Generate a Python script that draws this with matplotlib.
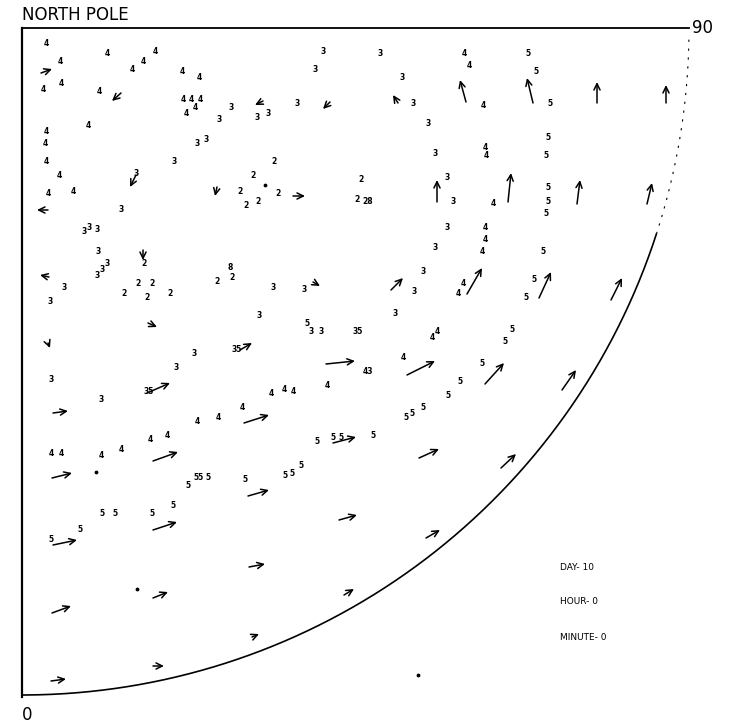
import numpy as np
import matplotlib
matplotlib.use('Agg')
import matplotlib.pyplot as plt

# plot units: pole at (0, 0), x to the right, y downward, quadrant radius R
R = 667

# contour digits
lab_x = [24, 38, 21, 39, 85, 110, 121, 133, 77, 160, 177, 161, 169, 178, 173, 164,
         209, 197, 66, 175, 184, 24, 23, 152, 24, 37, 114, 26, 51, 218, 224, 99,
         62, 67, 75,
         301, 358, 293, 442, 447, 380, 461, 275, 235, 246, 391, 406, 252, 413, 463,
         464, 231, 256, 236, 339, 335, 425, 431, 425, 346,
         506, 514, 528, 526, 524, 526, 526, 524, 471, 463,
         76, 122, 75, 80, 85, 42, 28, 116, 130, 102, 125, 148, 195, 208, 210,
         172, 154, 29, 215, 79, 127, 220, 196, 175, 145, 128, 29, 39, 79, 99,
         463, 413, 460, 251, 282, 401, 392, 441, 436, 237, 373, 285, 289, 299, 336,
         410, 415, 381, 346, 460, 438, 426, 249, 262, 271, 305, 384, 390,
         401, 295, 311, 319, 351, 279,
         521, 512, 504, 490, 483,
         166, 177, 186, 223, 80, 93, 130, 151, 29, 58, 263, 270]
lab_y = [16, 33, 61, 56, 26, 41, 33, 23, 64, 44, 49, 71, 72, 71, 79, 85,
         79, 92, 97, 116, 112, 104, 115, 134, 133, 147, 145, 165, 164, 163, 178, 181,
         203, 199, 201,
         24, 25, 42, 26, 37, 49, 77, 75, 90, 86, 76, 96, 133, 126, 119,
         127, 147, 166, 174, 152, 171, 149, 174, 200, 173,
         25, 44, 76, 109, 127, 160, 174, 185, 175, 200,
         223, 235, 247, 241, 236, 259, 273, 255, 255, 266, 269, 266, 254, 240, 249,
         325, 339, 351, 322, 371, 364, 379, 389, 394, 407, 412, 426, 425, 427, 422,
         211, 220, 223, 259, 262, 243, 264, 256, 266, 288, 285, 295, 303, 304, 304,
         309, 304, 329, 344, 335, 354, 368, 366, 361, 364, 358, 389, 385,
         379, 413, 410, 409, 408, 437,
         224, 251, 270, 302, 314,
         457, 449, 449, 452, 486, 486, 485, 478, 511, 501, 447, 446]
lab_txt = ['4', '4', '4', '4', '4', '4', '4', '4', '4', '4', '4', '4', '4', '4', '4', '4',
           '3', '3', '4', '3', '3', '4', '4', '3', '4', '4', '3', '4', '4', '2', '2', '3',
           '3', '3', '3',
           '3', '3', '3', '4', '4', '3', '4', '3', '3', '3', '3', '3', '2', '3', '4',
           '4', '2', '2', '2', '2', '2', '3', '3', '3', '28',
           '5', '5', '5', '5', '5', '5', '5', '5', '4', '4',
           '3', '2', '3', '3', '3', '3', '3', '2', '2', '2', '2', '2', '2', '8', '2',
           '3', '3', '3', '35', '3', '35', '4', '4', '4', '4', '4', '4', '4', '4', '4',
           '4', '3', '4', '3', '3', '3', '3', '4', '4', '3', '3', '5', '3', '3', '35',
           '4', '4', '4', '43', '5', '5', '5', '4', '4', '4', '4', '5', '5',
           '5', '5', '5', '5', '5', '5',
           '5', '5', '5', '5', '5',
           '5', '55', '5', '5', '5', '5', '5', '5', '5', '5', '5', '5']

# wind vectors: tail position and components
arr_x = [19, 99, 114, 195, 26, 444, 241, 308, 376, 271, 415, 511, 575, 644, 486, 555, 625,
         121, 27, 126, 26, 218, 125, 31, 131, 291, 369, 445, 304, 385, 222, 311, 397,
         517, 589, 463, 540, 479, 30, 131, 31, 30, 131, 29, 131, 226, 317, 404, 227, 322, 230]
arr_y = [45, 65, 147, 159, 182, 74, 73, 74, 75, 168, 174, 75, 75, 75, 174, 176, 176,
         222, 249, 295, 315, 322, 365, 385, 433, 254, 262, 266, 336, 347, 395, 415, 430,
         270, 272, 356, 362, 440, 450, 502, 517, 585, 570, 653, 638, 468, 492, 510, 539, 567, 609]
arr_u = [11, -9, -6, -2, -11, -6, -8, -7, -5, 12, 0, -6, 0, 0, 3, 3, 5,
         0, -9, 9, 2, 12, 23, 15, 25, 7, 12, 15, 29, 28, 25, 23, 20,
         12, 11, 19, 14, 15, 20, 24, 24, 19, 15, 15, 11, 21, 18, 14, 16, 10, 7]
arr_v = [-4, 8, 12, 9, 0, -22, 4, 7, -8, 0, -22, -25, -21, -18, -29, -24, -21,
         10, -2, 4, 5, -7, -10, -2, -9, 4, -12, -26, -3, -14, -8, -6, -9,
         -26, -22, -21, -20, -14, -5, -8, -5, -7, -6, -2, 0, -6, -5, -8, -3, -6, -3]

dot_x = [243, 74, 115, 396]
dot_y = [157, 444, 561, 647]

info = ['DAY- 10', 'HOUR- 0', 'MINUTE- 0']

fig = plt.figure(figsize=(7.34, 7.24), dpi=100)
ax = fig.add_axes([0, 0, 1, 1])
ax.set_xlim(-22, 712)
ax.set_ylim(696, -28)
ax.axis('off')

# frame of the quadrant
ax.plot([0, R], [0, 0], color='black', lw=1.3)
ax.plot([0, 0], [0, R + 2], color='black', lw=1.6)
t = np.radians(np.linspace(18, 90, 200))
ax.plot(R * np.cos(t), R * np.sin(t), color='black', lw=1.2)
t2 = np.radians(np.linspace(1, 18, 60))
ax.plot(R * np.cos(t2), R * np.sin(t2), color='black', lw=0.8, ls=(0, (2, 6)))

for x, y, s in zip(lab_x, lab_y, lab_txt):
    ax.text(x, y, s, fontsize=5.5, fontweight='bold', ha='center', va='center')

for x, y, u, v in zip(arr_x, arr_y, arr_u, arr_v):
    ax.annotate('', xy=(x + u, y + v), xytext=(x, y),
                arrowprops=dict(arrowstyle='->,head_length=0.45,head_width=0.22',
                                lw=1.1, color='black', shrinkA=0, shrinkB=0,
                                mutation_scale=10))

ax.scatter(dot_x, dot_y, s=3, color='black')

ax.text(0, -13, 'NORTH POLE', fontsize=12, ha='left', va='center')
ax.text(R + 3, 0, '90', fontsize=12, ha='left', va='center')
ax.text(5, 687, '0', fontsize=12, ha='center', va='center')

for i, s in enumerate(info):
    ax.text(538, 539 + 35 * i, s, fontsize=6.5, ha='left', va='center')

plt.savefig('out.png', dpi=100)
